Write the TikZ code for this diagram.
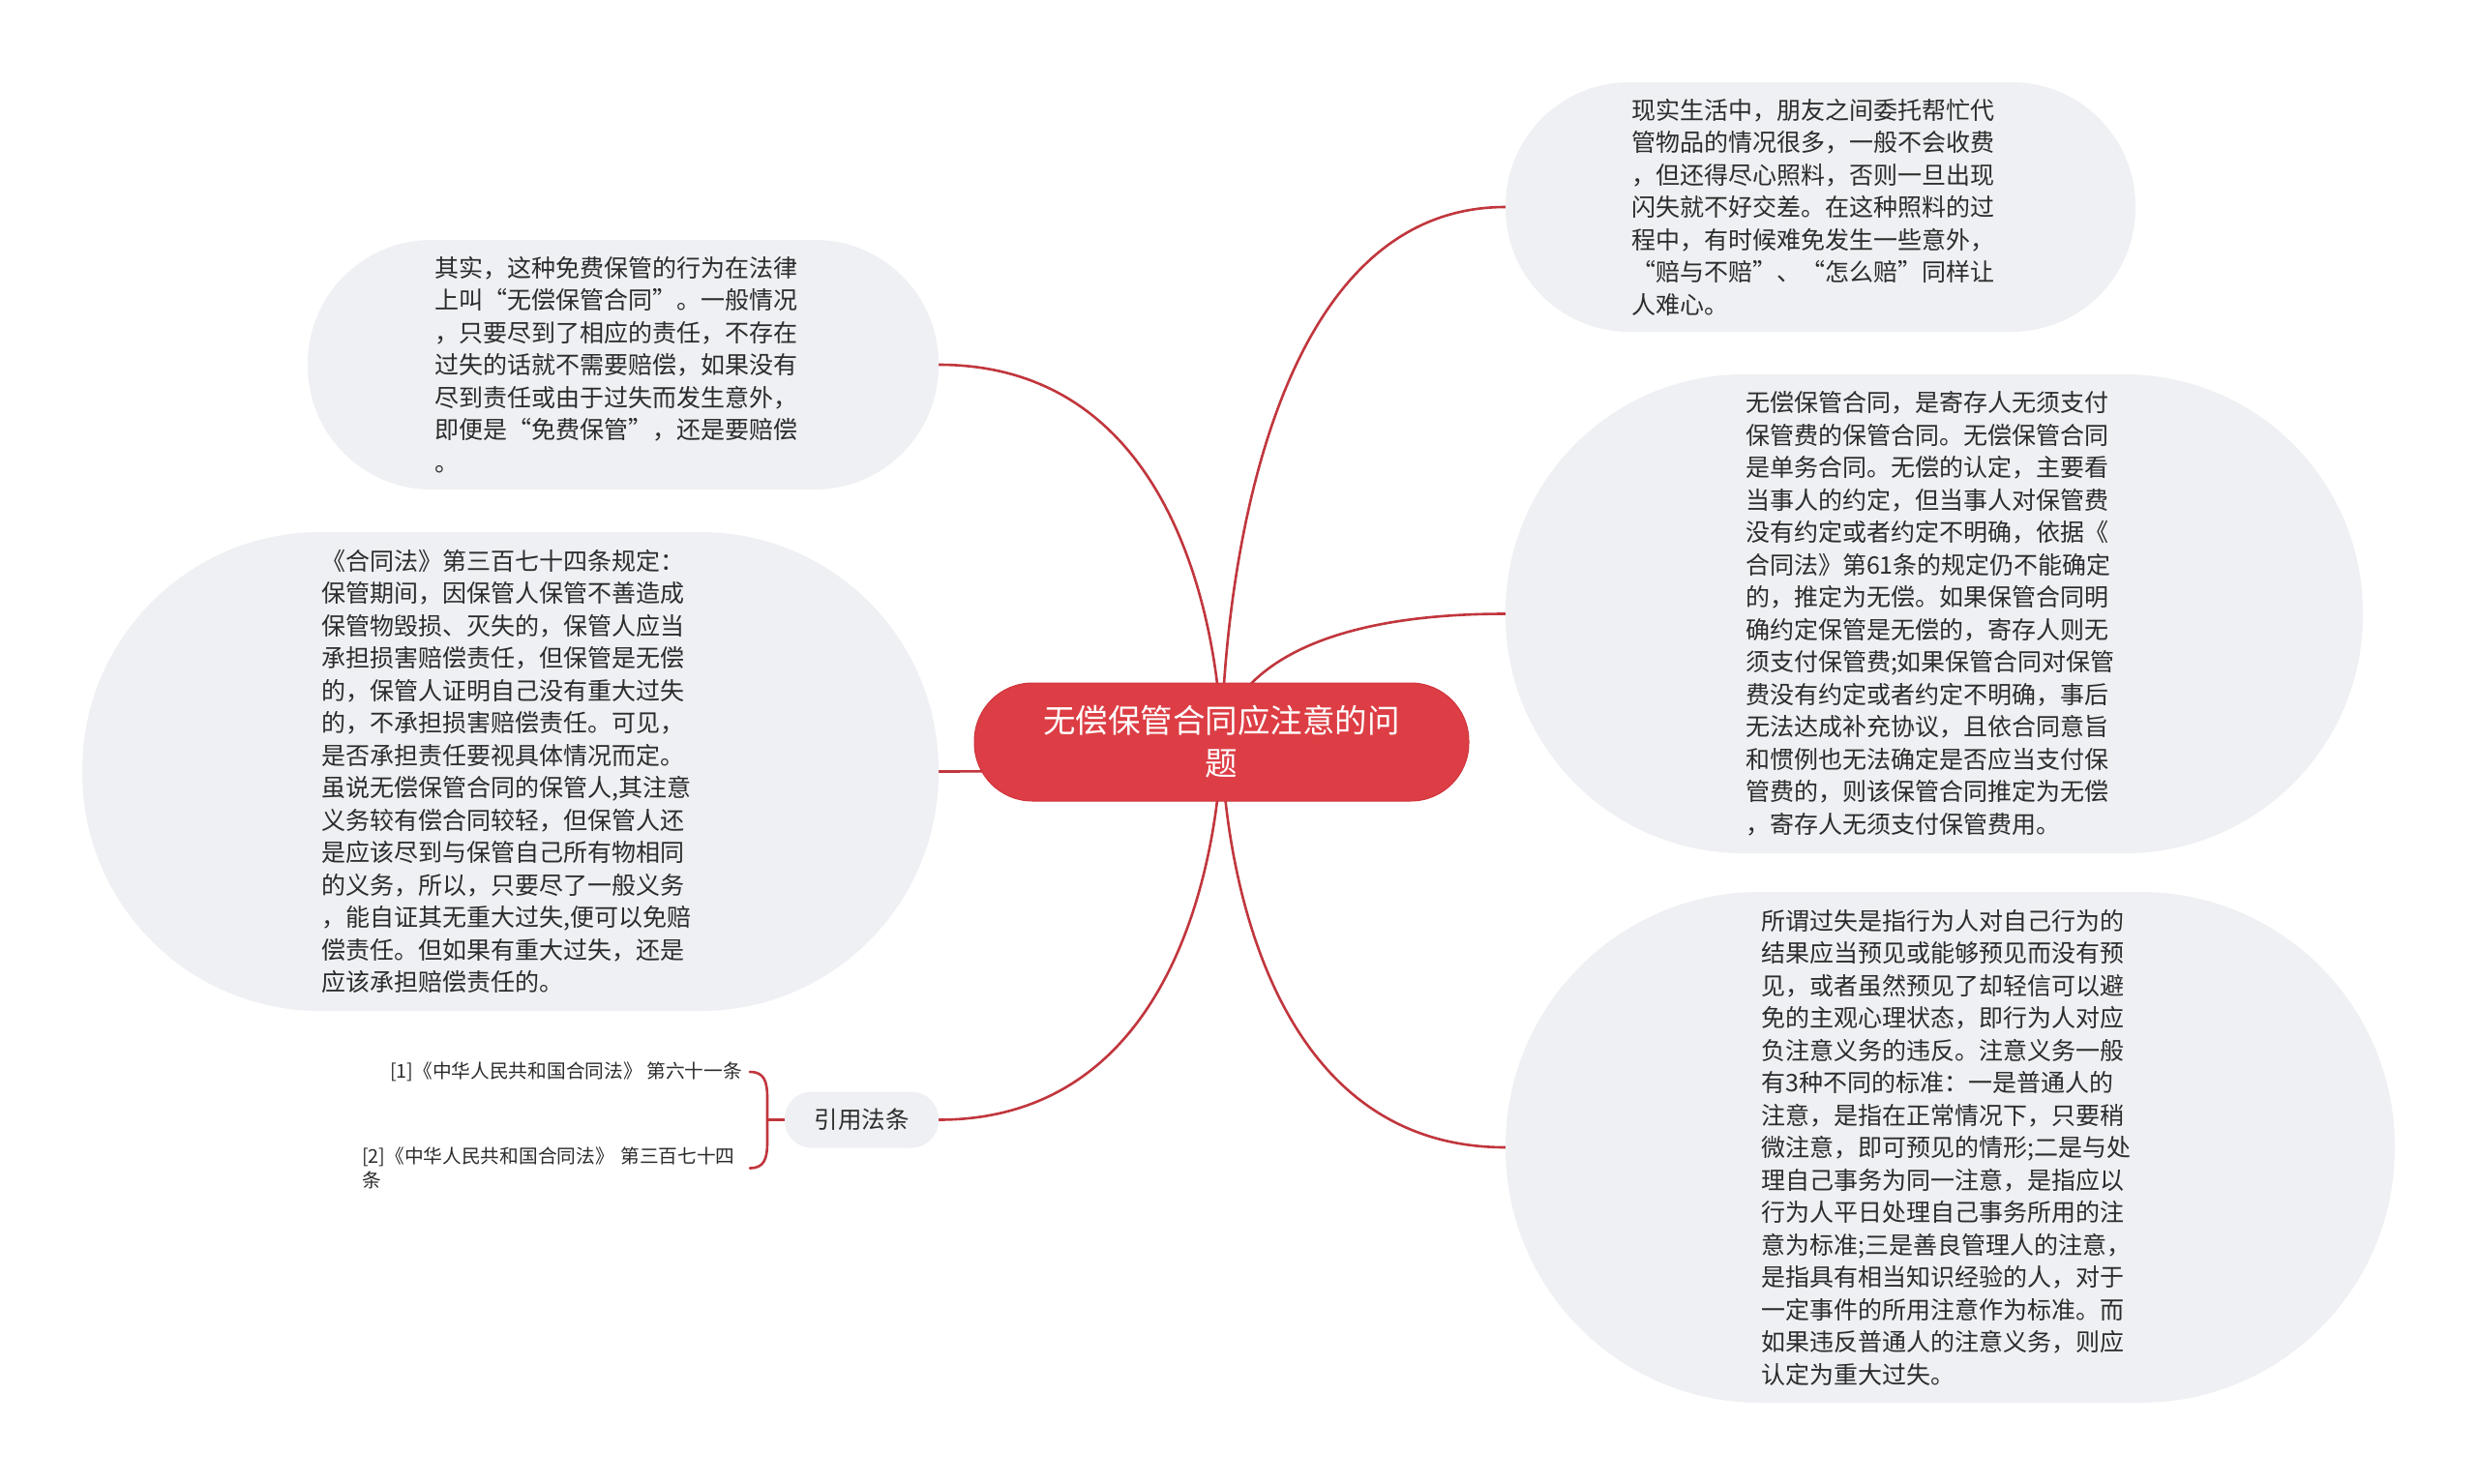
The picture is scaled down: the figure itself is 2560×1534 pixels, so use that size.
\documentclass[tikz,border=0pt]{standalone}
\usepackage{fontspec}
\setmainfont{Noto Sans CJK SC}
\definecolor{bubblefill}{HTML}{EEF0F3}
\definecolor{conncol}{HTML}{C1363D}
\definecolor{rootfill}{HTML}{DD3E45}
\definecolor{rootdraw}{HTML}{D0343B}
\definecolor{txtcol}{HTML}{2C2C2C}
\pgfdeclarelayer{bg}
\pgfsetlayers{bg,main}
\begin{document}
\begin{tikzpicture}[x=1pt,y=-1pt,
  bubble/.style={fill=bubblefill, text=txtcol, inner sep=0pt, text width=390pt, align=left,
    font={\fontsize{25pt}{33.5pt}\selectfont}},
  rootnode/.style={fill=rootfill, draw=rootdraw, line width=1pt, text=white, inner sep=0pt,
    minimum width=511pt, minimum height=122pt, rounded corners=60pt, align=center,
    font={\fontsize{33.5pt}{44pt}\selectfont}},
  citenode/.style={fill=bubblefill, text=txtcol, inner sep=0pt, minimum width=159pt,
    minimum height=58pt, rounded corners=28pt, font={\fontsize{24.5pt}{30pt}\selectfont}},
  reftext/.style={text=txtcol, inner sep=0pt, align=left, font={\fontsize{19.7pt}{25pt}\selectfont}},
  conn/.style={draw=conncol, line width=2.6pt}
]
\useasboundingbox (0,0) rectangle (2560,1534);

% root
\node[rootnode] (c) at (1262.5,767) {无偿保管合同应注意的问\\题};

% left bubbles
\node[bubble, minimum width=652pt, minimum height=258pt, rounded corners=128pt] (l1) at (644,377) {其实，这种免费保管的行为在法律\\上叫“无偿保管合同”。一般情况\\，只要尽到了相应的责任，不存在\\过失的话就不需要赔偿，如果没有\\尽到责任或由于过失而发生意外，\\即便是“免费保管”，还是要赔偿\\。};

\node[bubble, minimum width=885pt, minimum height=495pt, rounded corners=246pt] (l2) at (527.5,797.5) {《合同法》第三百七十四条规定：\\保管期间，因保管人保管不善造成\\保管物毁损、灭失的，保管人应当\\承担损害赔偿责任，但保管是无偿\\的，保管人证明自己没有重大过失\\的，不承担损害赔偿责任。可见，\\是否承担责任要视具体情况而定。\\虽说无偿保管合同的保管人,其注意\\义务较有偿合同较轻，但保管人还\\是应该尽到与保管自己所有物相同\\的义务，所以，只要尽了一般义务\\，能自证其无重大过失,便可以免赔\\偿责任。但如果有重大过失，还是\\应该承担赔偿责任的。};

\node[citenode] (yy) at (890.5,1157.5) {引用法条};

\node[reftext, anchor=east] (r1ref) at (767,1108) {[1]《中华人民共和国合同法》 第六十一条};
\node[reftext, anchor=west, text width=393pt] (r2ref) at (374,1207.5) {[2]《中华人民共和国合同法》 第三百七十四\\条};

% right bubbles
\node[bubble, minimum width=651pt, minimum height=258pt, rounded corners=128pt] (r1) at (1881.5,214) {现实生活中，朋友之间委托帮忙代\\管物品的情况很多，一般不会收费\\，但还得尽心照料，否则一旦出现\\闪失就不好交差。在这种照料的过\\程中，有时候难免发生一些意外，\\“赔与不赔”、“怎么赔”同样让\\人难心。};

\node[bubble, minimum width=886pt, minimum height=495pt, rounded corners=246pt] (r2) at (1999,634.5) {无偿保管合同，是寄存人无须支付\\保管费的保管合同。无偿保管合同\\是单务合同。无偿的认定，主要看\\当事人的约定，但当事人对保管费\\没有约定或者约定不明确，依据《\\合同法》第61条的规定仍不能确定\\的，推定为无偿。如果保管合同明\\确约定保管是无偿的，寄存人则无\\须支付保管费;如果保管合同对保管\\费没有约定或者约定不明确，事后\\无法达成补充协议，且依合同意旨\\和惯例也无法确定是否应当支付保\\管费的，则该保管合同推定为无偿\\，寄存人无须支付保管费用。};

\node[bubble, minimum width=919pt, minimum height=528pt, rounded corners=263pt] (r3) at (2015.5,1186) {所谓过失是指行为人对自己行为的\\结果应当预见或能够预见而没有预\\见，或者虽然预见了却轻信可以避\\免的主观心理状态，即行为人对应\\负注意义务的违反。注意义务一般\\有3种不同的标准：一是普通人的\\注意，是指在正常情况下，只要稍\\微注意，即可预见的情形;二是与处\\理自己事务为同一注意，是指应以\\行为人平日处理自己事务所用的注\\意为标准;三是善良管理人的注意，\\是指具有相当知识经验的人，对于\\一定事件的所用注意作为标准。而\\如果违反普通人的注意义务，则应\\认定为重大过失。};

\begin{pgfonlayer}{bg}
  \fill[white] (0,0) rectangle (2560,1534);
  \draw[conn] (c.center) .. controls (c.center) and (c.center |- r1.west) .. (r1.west);
  \draw[conn] (c.center) .. controls (c.center) and (c.center |- l1.east) .. (l1.east);
  \draw[conn] (c.center) .. controls (c.center) and (c.center |- r2.west) .. (r2.west);
  \draw[conn] (c.center) .. controls (c.center) and (c.center |- l2.east) .. (l2.east);
  \draw[conn] (c.center) .. controls (c.center) and (c.center |- yy.east) .. (yy.east);
  \draw[conn] (c.center) .. controls (c.center) and (c.center |- r3.west) .. (r3.west);
  % bracket
  \coordinate (bt) at ([xshift=8pt]r1ref.east);
  \coordinate (bb) at (bt |- r2ref.west);
  \coordinate (bm) at ([xshift=-18pt]yy.west);
  \draw[conn, line cap=round] (bt) .. controls ([xshift=15pt]bt) and ([xshift=18pt,yshift=-10pt]bt) .. ([xshift=18pt,yshift=-27pt]bt)
     -- ([xshift=18pt,yshift=27pt]bb) .. controls ([xshift=18pt,yshift=10pt]bb) and ([xshift=15pt]bb) .. (bb);
  \draw[conn] ([xshift=-1pt]bm) -- (yy.west);
\end{pgfonlayer}
\end{tikzpicture}
\end{document}
